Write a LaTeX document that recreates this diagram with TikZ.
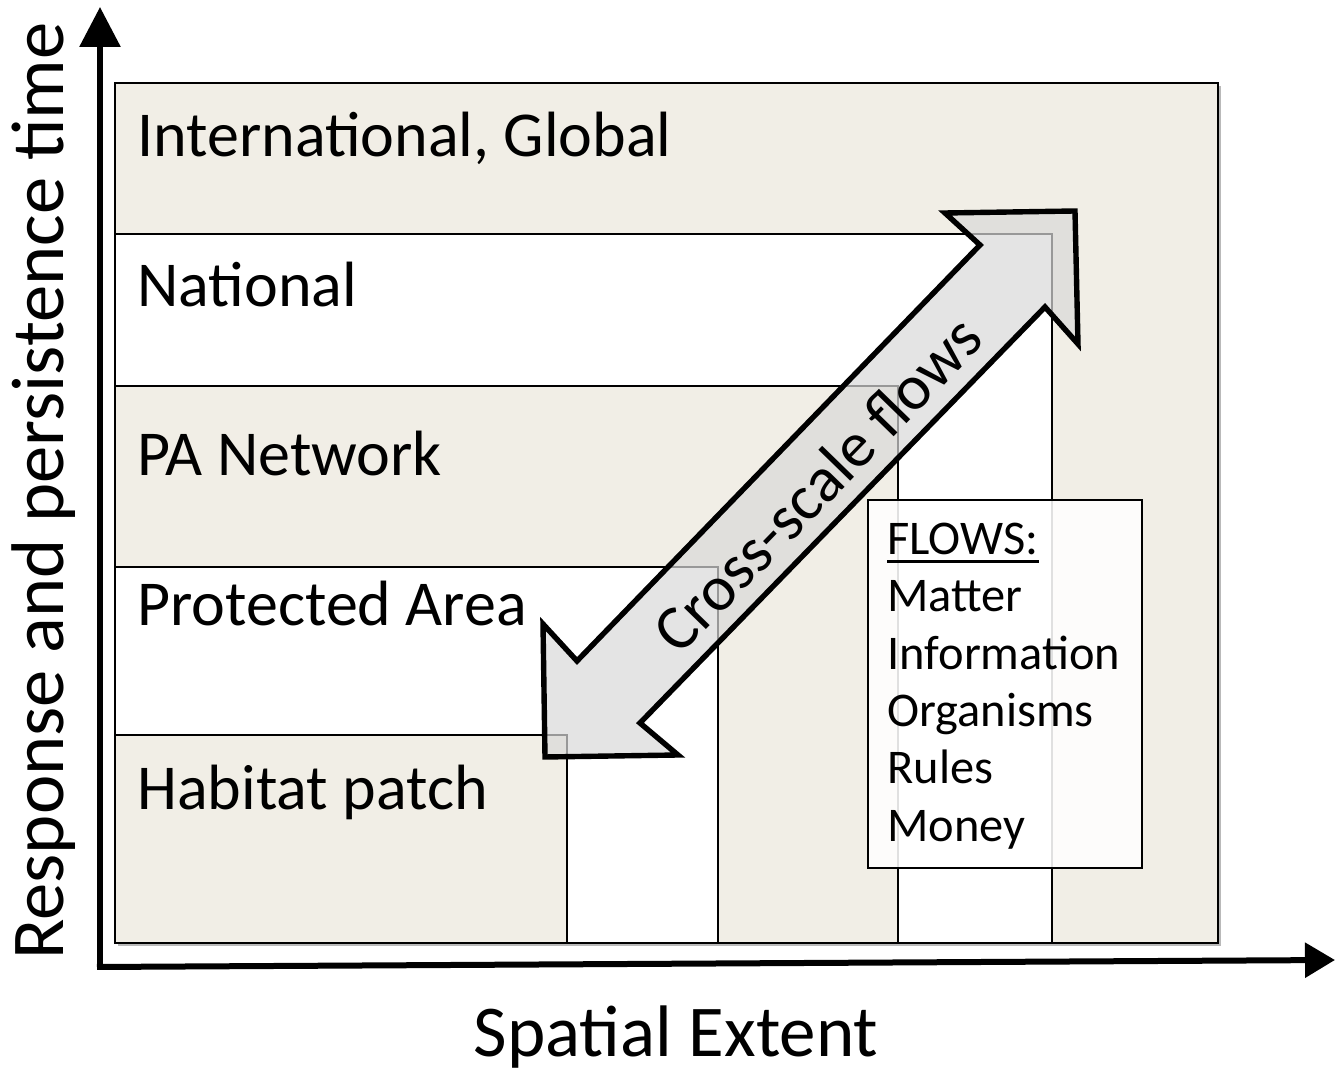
\documentclass[tikz,border=0pt]{standalone}
\usepackage{fontspec}
\setmainfont{Carlito}
\usetikzlibrary{arrows.meta,shadows}
\definecolor{patchbeige}{RGB}{241,238,230}
\tikzset{
  scalebox/.style={draw=black, line width=0.8pt},
  scalelabel/.style={anchor=base west, inner sep=0pt, font=\fontsize{32}{38}\selectfont},
  axisline/.style={line width=3pt},
  axislabel/.style={anchor=base, inner sep=0pt, font=\fontsize{36.5}{44}\selectfont},
  flowarrow/.style={draw=black, line width=2.7pt, line join=miter, fill=black!15, fill opacity=0.7},
  flowbox/.style={draw=black, line width=0.8pt, fill=white, fill opacity=0.88, text opacity=1, inner sep=0pt},
  flowtext/.style={anchor=base west, inner sep=0pt, font=\fontsize{24.2}{29}\selectfont},
}

\begin{document}
\begin{tikzpicture}[x=0.5pt, y=-0.5pt]
			%%%%% START %%%%%
			\fill[white] (0,0) rectangle (1335,1074);
			\useasboundingbox (0,0) rectangle (1335,1074);
			
			% nested boxes, one corner in common
			\draw[scalebox, fill=patchbeige, drop shadow={shadow xshift=1.5pt, shadow yshift=-1.5pt, opacity=0.55}] (115,943) rectangle (1218,83);
			\draw[scalebox, fill=white] (115,943) rectangle (1052,234);
			\draw[scalebox, fill=patchbeige] (115,943) rectangle (898,386);
			\draw[scalebox, fill=white] (115,943) rectangle (718,567);
			\draw[scalebox, fill=patchbeige] (115,943) rectangle (567,735);
			
			\node[scalelabel] (global) at (137,157) {International, Global};
			\node[scalelabel] (national) at (137,307) {National};
			\node[scalelabel] (network) at (137,476) {PA Network};
			\node[scalelabel] (protected) at (137,626) {Protected Area};
			\node[scalelabel] (patch) at (137,810) {Habitat patch};
			
			% double arrow
			\draw[flowarrow] (1075,211) -- (945,213) -- (980,245) -- (577,661) -- (543,624)
				-- (545,757) -- (678,755) -- (640,723) -- (1045,307) -- (1078,344) -- cycle;
			\node[inner sep=0pt, font=\fontsize{32}{38}\selectfont, rotate=45.8] (crossscale) at (817,484) {Cross-scale flows};
			
			% list of flows
			\node[flowbox, anchor=north west, minimum width=137pt, minimum height=184pt] (flowsbox) at (867,499) {};
			\node[flowtext] (flowtitle) at (887,555) {FLOWS:};
			\draw[line width=1.5pt] ([yshift=-3.5pt]flowtitle.base west) -- ([yshift=-3.5pt]flowtitle.base east);
			\node[flowtext] (matter) at (887,612) {Matter};
			\node[flowtext] (information) at (887,670) {Information};
			\node[flowtext] (organisms) at (887,727) {Organisms};
			\node[flowtext] (rules) at (887,784) {Rules};
			\node[flowtext] (money) at (887,842) {Money};
			
			% axes
			\coordinate (yfoot) at (100,970);
			\coordinate (xfoot) at (97,967);
			\coordinate (ytip) at (100,7);
			\coordinate (xtip) at (1335,960);
			\draw[axisline, -{Triangle[width=20pt,length=20pt]}] (yfoot) -- (ytip);
			\draw[axisline, -{Triangle[width=17pt,length=15pt]}] (xfoot) -- (xtip);
			
			\node[axislabel] (xlabel) at (676,1057) {Spatial Extent};
			\node[axislabel, font=\fontsize{37.3}{44}\selectfont, rotate=90] (ylabel) at (63,491) {Response and persistence time};
			%%%%% END %%%%%
\end{tikzpicture}
\end{document}
